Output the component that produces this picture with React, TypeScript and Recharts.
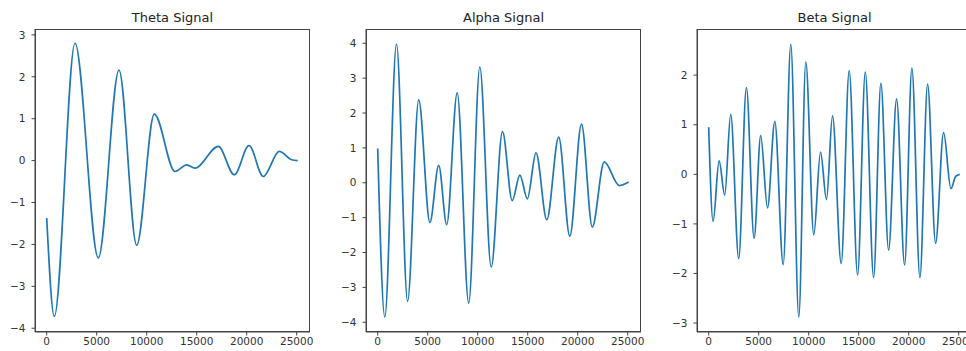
import { LineChart, Line, XAxis, YAxis } from "recharts";

// sample index (x) and amplitude (y)
const thetaX = [0, 760, 2830, 5160, 7230, 9000, 10760, 12830, 14000, 14830, 17160, 18760, 20230, 21660, 23260, 24500, 25100];
const thetaY = [-1.37, -3.72, 2.8, -2.32, 2.16, -2.02, 1.11, -0.26, -0.1, -0.18, 0.34, -0.34, 0.36, -0.38, 0.22, 0.02, 0.0];

const alphaX = [0, 710, 1880, 2990, 4100, 5220, 6100, 6900, 7950, 9100, 10210, 11350, 12480, 13450, 14220, 14960, 15830, 16910, 18100, 19210, 20380, 21460, 22650, 24160, 25100];
const alphaY = [0.98, -3.85, 3.98, -3.4, 2.38, -1.14, 0.5, -1.2, 2.58, -3.45, 3.32, -2.42, 1.47, -0.51, 0.22, -0.46, 0.86, -1.06, 1.31, -1.53, 1.68, -1.27, 0.6, -0.08, 0.02];

const betaX = [0, 440, 1040, 1600, 2200, 3000, 3770, 4540, 5200, 5880, 6610, 7450, 8210, 9010, 9710, 10510, 11180, 11780, 12380, 13250, 14050, 14890, 15660, 16490, 17220, 17990, 18790, 19590, 20320, 21120, 21890, 22690, 23490, 24220, 24700, 25100];
const betaY = [0.95, -0.95, 0.27, -0.42, 1.21, -1.7, 1.75, -1.29, 0.78, -0.68, 1.07, -1.82, 2.62, -2.88, 2.27, -1.22, 0.45, -0.51, 1.18, -1.8, 2.09, -2.03, 2.06, -2.08, 1.84, -1.53, 1.52, -1.83, 2.14, -2.08, 1.82, -1.39, 0.84, -0.29, -0.04, 0.0];

const xTicks = [0, 5000, 10000, 15000, 20000, 25000];
const thetaTicks = [-4, -3, -2, -1, 0, 1, 2, 3];
const alphaTicks = [-4, -3, -2, -1, 0, 1, 2, 3, 4];
const betaTicks = [-3, -2, -1, 0, 1, 2];

const titles = ["Theta Signal", "Alpha Signal", "Beta Signal"];

const FONT = "'DejaVu Sans', sans-serif";
const AXIS = "#444";
const tickStyle = { fontSize: 10.5, fill: "#333", fontFamily: FONT };
const fmt = (v: number) => String(v).replace("-", "\u2212");

const toRows = (xs: number[], ys: number[]) => xs.map((x, i) => ({ x, y: ys[i] }));

type PanelProps = {
  left: number;
  title: string;
  xs: number[];
  ys: number[];
  yDomain: [number, number];
  yTicks: number[];
};

const Panel = ({ left, title, xs, ys, yDomain, yTicks }: PanelProps) => {
  const xDomain: [number, number] = [-1170, 26330];
  return (
    <div style={{ position: "absolute", left, top: 0, width: 320, height: 351 }}>
      <div
        style={{
          position: "absolute",
          left: 35,
          width: 275,
          top: 10,
          textAlign: "center",
          fontFamily: FONT,
          fontSize: 13,
          lineHeight: "15px",
          color: "#222",
        }}
      >
        {title}
      </div>
      <LineChart
        width={320}
        height={351}
        data={toRows(xs, ys)}
        margin={{ top: 29, right: 10, left: 0, bottom: 0 }}
      >
        <XAxis
          dataKey="x"
          type="number"
          domain={xDomain}
          allowDataOverflow
          ticks={xTicks}
          height={19}
          tickSize={3.5}
          tickMargin={2}
          tick={tickStyle}
          stroke={AXIS}
          interval={0}
        />
        <YAxis
          type="number"
          domain={yDomain}
          allowDataOverflow
          ticks={yTicks}
          width={35}
          tickSize={3.5}
          tickMargin={6}
          tick={tickStyle}
          tickFormatter={fmt}
          stroke={AXIS}
          interval={0}
        />
        <Line
          type="monotone"
          dataKey="y"
          stroke="#1f77b4"
          strokeWidth={1.7}
          dot={false}
          isAnimationActive={false}
        />
      </LineChart>
      {/* frame around the plot area */}
      <div
        style={{
          position: "absolute",
          left: 35,
          top: 29,
          width: 275,
          height: 303,
          boxSizing: "border-box",
          border: `1px solid ${AXIS}`,
          pointerEvents: "none",
        }}
      />
    </div>
  );
};

export default function App() {
  return (
    <div
      style={{
        position: "fixed",
        left: 0,
        top: 0,
        width: 966,
        height: 351,
        overflow: "hidden",
        background: "#fff",
      }}
    >
      <Panel left={0} title={titles[0]} xs={thetaX} ys={thetaY} yDomain={[-4.09, 3.14]} yTicks={thetaTicks} />
      <Panel left={331} title={titles[1]} xs={alphaX} ys={alphaY} yDomain={[-4.28, 4.41]} yTicks={alphaTicks} />
      <Panel left={662} title={titles[2]} xs={betaX} ys={betaY} yDomain={[-3.18, 2.93]} yTicks={betaTicks} />
    </div>
  );
}
